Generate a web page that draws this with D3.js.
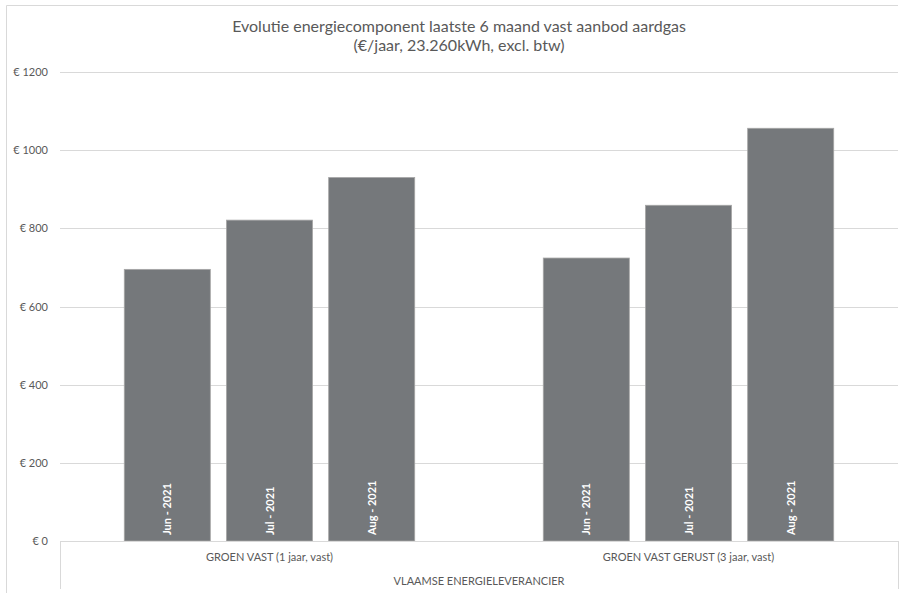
<!DOCTYPE html>
<html><head><meta charset="utf-8">
<script src="https://cdn.jsdelivr.net/npm/d3@7"></script>
<style>body{margin:0;background:#fff}svg{display:block}text{font-family:Lato,"Open Sans",sans-serif}</style>
</head><body><svg id="c" width="899" height="593"></svg>
<script>
const categories = ["GROEN VAST (1 jaar, vast)", "GROEN VAST GERUST (3 jaar, vast)"];
const months = ["Jun - 2021", "Jul - 2021", "Aug - 2021"];
const groenVast = [695, 821, 930];
const groenVastGerust = [724, 859, 1056];
const yTicks = [0, 200, 400, 600, 800, 1000, 1200];
const titleLines = ["Evolutie energiecomponent laatste 6 maand vast aanbod aardgas", "(€/jaar, 23.260kWh, excl. btw)"];
const outerLabel = "VLAAMSE ENERGIELEVERANCIER";

const seriesByCat = [groenVast, groenVastGerust];
const data = [];
categories.forEach((c, i) => months.forEach((m, j) => data.push({cat: c, month: m, value: seriesByCat[i][j]})));

const svg = d3.select("#c");
const L = 60, R = 898, T = 72, B = 541;

// chart border
svg.append("path").attr("d", `M6.5,593 V5.5 H898`).attr("fill", "none").attr("stroke", "#d9d9d9").attr("stroke-width", 1);

const y = d3.scaleLinear().domain([0, 1200]).range([B, T]);
const x0 = d3.scaleBand().domain(categories).range([L, R]).padding(0);
const x1 = d3.scaleBand().domain(months).range([0, x0.bandwidth()]).paddingInner(0.158).paddingOuter(0.629);

// gridlines
svg.append("g").selectAll("line").data(yTicks.filter(d => d > 0)).join("line")
  .attr("x1", L).attr("x2", R).attr("y1", d => Math.round(y(d)) + 0.5).attr("y2", d => Math.round(y(d)) + 0.5)
  .attr("stroke", "#d9d9d9").attr("stroke-width", 1);

// y labels
svg.append("g").selectAll("text").data(yTicks).join("text")
  .attr("x", 48).attr("y", d => y(d) + 4).attr("text-anchor", "end")
  .attr("font-size", 11).attr("fill", "#595959").text(d => "€ " + d);

// bars
const bars = svg.append("g").selectAll("g").data(data).join("g")
  .attr("transform", d => `translate(${x0(d.cat) + x1(d.month)},0)`);
bars.append("rect").attr("x", 0).attr("width", x1.bandwidth())
  .attr("y", d => y(d.value)).attr("height", d => y(0) - y(d.value))
  .attr("fill", "#75787b").attr("stroke", "#a6a6a6").attr("stroke-width", 0.8);
bars.append("text")
  .attr("transform", d => `translate(${x1.bandwidth() / 2 + 4},${y(0) - 6}) rotate(-90)`)
  .attr("font-size", 11).attr("font-weight", "bold").attr("fill", "#ffffff").text(d => d.month);

// x axis
svg.append("line").attr("x1", L).attr("x2", R).attr("y1", B + 0.5).attr("y2", B + 0.5).attr("stroke", "#d9d9d9");
svg.append("g").selectAll("line").data([L, R]).join("line")
  .attr("x1", d => d + 0.5).attr("x2", d => d + 0.5).attr("y1", B).attr("y2", 589).attr("stroke", "#d9d9d9");
svg.append("g").selectAll("text").data(categories).join("text")
  .attr("x", d => x0(d) + x0.bandwidth() / 2).attr("y", 561).attr("text-anchor", "middle")
  .attr("font-size", 11).attr("fill", "#595959").text(d => d);
svg.append("text").attr("x", (L + R) / 2).attr("y", 585).attr("text-anchor", "middle")
  .attr("font-size", 11).attr("fill", "#595959").text(outerLabel);

// title
svg.append("g").selectAll("text").data(titleLines).join("text")
  .attr("x", 459).attr("y", (d, i) => 31.5 + i * 19).attr("text-anchor", "middle")
  .attr("font-size", 16).attr("fill", "#595959").text(d => d);
</script></body></html>
